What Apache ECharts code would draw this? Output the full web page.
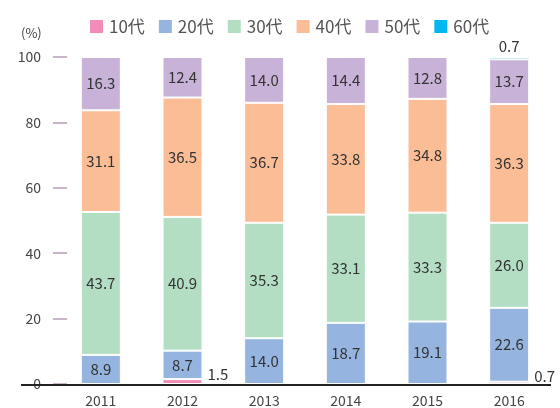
<!DOCTYPE html>
<html>
<head>
<meta charset="utf-8">
<script src="https://cdn.jsdelivr.net/npm/echarts@6/dist/echarts.min.js"></script>
<style>
  html, body { margin: 0; padding: 0; background: #fff; }
  #chart { width: 560px; height: 408px; }
</style>
</head>
<body>
<div id="chart"></div>
<script>
// Age-group shares per year (%)
const years = ['2011', '2012', '2013', '2014', '2015', '2016'];
const teens    = [null, 1.5, null, null, null, 0.7];
const twenties = [8.9, 8.7, 14.0, 18.7, 19.1, 22.6];
const thirties = [43.7, 40.9, 35.3, 33.1, 33.3, 26.0];
const forties  = [31.1, 36.5, 36.7, 33.8, 34.8, 36.3];
const fifties  = [16.3, 12.4, 14.0, 14.4, 12.8, 13.7];
const sixties  = [null, null, null, null, null, 0.7];
const seriesNames = ['10代', '20代', '30代', '40代', '50代', '60代'];
const yTicks = [0, 20, 40, 60, 80, 100];

const FONT = '"Noto Sans CJK JP", "Noto Sans", sans-serif';
const colors = ['#f28cb8', '#95b4e0', '#b3dec3', '#fbbd95', '#c8b2d8', '#00b8ef'];

const fmt = p => (p.value == null ? '' : Number(p.value).toFixed(1));

function makeSeries(name, data, color, label) {
  return {
    name: name,
    type: 'bar',
    stack: 'total',
    barWidth: 40,
    data: data,
    itemStyle: { color: color, borderColor: '#fff', borderWidth: 1 },
    label: Object.assign({
      show: true,
      position: 'inside',
      formatter: fmt,
      color: '#333',
      fontSize: 15,
      fontFamily: FONT
    }, label || {}),
    emphasis: { disabled: true }
  };
}

const chart = echarts.init(document.getElementById('chart'), null, { renderer: 'canvas' });

const percentText = { type: 'text', left: 21, top: 27, style: { text: '(%)', fill: '#444', fontSize: 13, fontFamily: FONT } };

chart.setOption({
  animation: false,
  textStyle: { fontFamily: FONT },
  legend: {
    data: seriesNames,
    left: 83,
    top: 13,
    itemWidth: 15,
    itemHeight: 15,
    itemGap: 12,
    icon: 'rect',
    textStyle: { color: '#555', fontSize: 17, fontFamily: FONT }
  },
  grid: { left: 60, right: 10, top: 57, bottom: 21 },
  xAxis: {
    type: 'category',
    data: years,
    axisLine: { show: false },
    axisTick: { show: false },
    axisLabel: { color: '#444', fontSize: 14, margin: 10, fontFamily: FONT }
  },
  yAxis: {
    type: 'value',
    min: yTicks[0],
    max: yTicks[yTicks.length - 1],
    interval: 20,
    offset: -7,
    splitLine: { show: false },
    axisLine: { show: false },
    axisTick: { show: true, length: 14, lineStyle: { color: '#b89fb6', width: 1.5 } },
    axisLabel: { color: '#444', fontSize: 14, margin: 26, fontFamily: FONT }
  },
  graphic: [percentText],
  series: [
    makeSeries(seriesNames[0], teens, colors[0], { position: 'right', distance: 5, offset: [0, -7] }),
    makeSeries(seriesNames[1], twenties, colors[1]),
    makeSeries(seriesNames[2], thirties, colors[2]),
    makeSeries(seriesNames[3], forties, colors[3]),
    makeSeries(seriesNames[4], fifties, colors[4]),
    makeSeries(seriesNames[5], sixties, colors[5], { position: 'top', distance: 3 })
  ]
});

// Baseline drawn across the full width at the zero value
const zeroY = chart.convertToPixel({ yAxisIndex: 0 }, 0);
chart.setOption({
  graphic: [
    percentText,
    {
      type: 'line',
      shape: { x1: 21, y1: zeroY + 1, x2: 551, y2: zeroY + 1 },
      style: { stroke: '#222', lineWidth: 2 },
      z: 100
    }
  ]
});
</script>
</body>
</html>
